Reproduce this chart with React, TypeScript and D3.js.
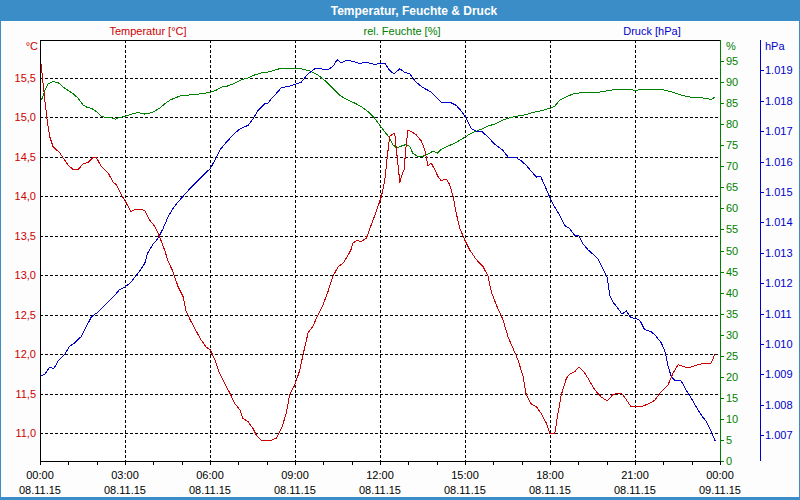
import React from "react";
import * as d3 from "d3";

// ---- data: [hour since 08.11.15 00:00, value] ----
const temperature: [number, number][] = [
  [0.05, 15.68], [0.07, 15.56], [0.17, 15.22], [0.25, 14.97], [0.34, 14.76], [0.46, 14.63], [0.58, 14.59],
  [0.7, 14.55], [0.81, 14.49], [0.99, 14.4], [1.16, 14.34], [1.34, 14.34], [1.52, 14.41], [1.69, 14.43],
  [1.87, 14.49], [1.99, 14.49], [2.16, 14.38], [2.4, 14.3], [2.58, 14.18], [2.69, 14.15], [2.87, 14.02],
  [3.01, 13.94], [3.2, 13.81], [3.34, 13.83], [3.52, 13.84], [3.7, 13.82], [3.87, 13.7], [4.05, 13.62],
  [4.22, 13.49], [4.4, 13.32], [4.52, 13.18], [4.69, 13.05], [4.87, 12.86], [5.05, 12.73], [5.16, 12.54],
  [5.34, 12.41], [5.52, 12.29], [5.69, 12.18], [5.87, 12.09], [6.01, 12.06], [6.17, 11.93], [6.34, 11.76],
  [6.52, 11.63], [6.7, 11.51], [6.87, 11.38], [7.05, 11.3], [7.16, 11.19], [7.34, 11.15], [7.52, 11.06],
  [7.63, 10.98], [7.81, 10.91], [8.16, 10.91], [8.34, 10.94], [8.52, 11.06], [8.69, 11.25], [8.81, 11.49],
  [8.99, 11.61], [9.17, 11.8], [9.28, 11.99], [9.46, 12.27], [9.64, 12.36], [9.81, 12.5], [9.99, 12.63],
  [10.16, 12.79], [10.34, 12.99], [10.52, 13.11], [10.69, 13.15], [10.85, 13.24], [10.97, 13.32],
  [11.05, 13.41], [11.16, 13.44], [11.34, 13.43], [11.52, 13.47], [11.69, 13.64], [11.87, 13.81],
  [12.05, 14.0], [12.17, 14.21], [12.26, 14.51], [12.34, 14.76], [12.42, 14.78], [12.52, 14.8],
  [12.58, 14.59], [12.64, 14.38], [12.7, 14.18], [12.75, 14.25], [12.85, 14.34], [12.93, 14.68],
  [12.99, 14.84], [13.1, 14.82], [13.28, 14.78], [13.46, 14.7], [13.58, 14.59], [13.69, 14.39],
  [13.81, 14.42], [13.93, 14.34], [14.05, 14.25], [14.16, 14.2], [14.34, 14.22], [14.46, 14.15],
  [14.58, 14.0], [14.69, 13.79], [14.81, 13.6], [14.99, 13.45], [15.17, 13.32], [15.4, 13.2],
  [15.64, 13.11], [15.81, 12.99], [15.93, 12.79], [16.1, 12.63], [16.34, 12.44], [16.52, 12.22],
  [16.69, 12.08], [16.87, 11.93], [17.05, 11.72], [17.16, 11.49], [17.34, 11.37], [17.52, 11.34],
  [17.69, 11.25], [17.87, 11.13], [17.99, 11.0], [18.17, 11.0], [18.28, 11.25], [18.4, 11.49],
  [18.58, 11.7], [18.7, 11.75], [18.87, 11.78], [19.02, 11.84], [19.2, 11.78], [19.37, 11.68],
  [19.58, 11.55], [19.81, 11.46], [20.02, 11.41], [20.22, 11.49], [20.4, 11.51], [20.54, 11.5],
  [20.69, 11.43], [20.85, 11.34], [21.05, 11.34], [21.22, 11.34], [21.46, 11.37], [21.7, 11.42],
  [21.93, 11.53], [22.16, 11.61], [22.34, 11.76], [22.52, 11.87], [22.75, 11.84], [22.99, 11.84],
  [23.22, 11.87], [23.46, 11.89], [23.69, 11.89], [23.83, 12.01],
];

const humidity: [number, number][] = [
  [0.05, 85.7], [0.17, 88.0], [0.28, 89.5], [0.46, 90.1], [0.64, 89.9], [0.81, 88.9], [0.99, 88.0],
  [1.16, 87.3], [1.34, 86.2], [1.52, 84.6], [1.69, 83.9], [1.81, 83.8], [1.99, 83.0], [2.16, 81.9],
  [2.34, 81.5], [2.52, 81.5], [2.66, 81.2], [2.81, 81.6], [3.01, 81.9], [3.22, 82.4], [3.46, 82.8],
  [3.7, 82.4], [3.87, 82.6], [4.05, 83.1], [4.22, 83.8], [4.4, 84.8], [4.58, 85.7], [4.75, 86.2],
  [4.99, 86.8], [5.22, 86.9], [5.46, 87.1], [5.69, 87.2], [6.01, 87.6], [6.22, 88.1], [6.4, 88.8],
  [6.64, 89.1], [6.87, 89.7], [7.1, 90.5], [7.34, 91.0], [7.58, 91.7], [7.81, 92.2], [8.16, 92.5],
  [8.22, 92.7], [8.46, 93.2], [8.75, 93.3], [9.05, 93.3], [9.34, 93.0], [9.58, 92.5], [9.81, 91.7],
  [10.1, 90.1], [10.34, 88.5], [10.58, 86.9], [10.81, 85.9], [11.11, 85.0], [11.34, 84.2], [11.58, 83.0],
  [11.81, 81.4], [11.99, 79.8], [12.17, 78.2], [12.34, 76.7], [12.46, 75.1], [12.58, 74.4], [12.75, 74.8],
  [12.93, 75.2], [13.05, 74.7], [13.16, 73.1], [13.34, 72.3], [13.52, 72.4], [13.69, 72.9], [13.87, 73.6],
  [14.02, 73.1], [14.16, 74.0], [14.4, 74.8], [14.64, 75.5], [14.87, 76.4], [15.11, 77.4], [15.34, 78.2],
  [15.58, 78.8], [15.81, 79.6], [16.05, 80.0], [16.16, 80.4], [16.34, 81.0], [16.58, 81.5], [16.81, 81.9],
  [17.11, 82.2], [17.34, 82.7], [17.69, 83.2], [18.01, 83.8], [18.17, 84.3], [18.34, 85.7], [18.58, 86.5],
  [18.81, 87.2], [19.1, 87.5], [19.58, 87.5], [19.81, 87.7], [20.16, 88.1], [20.4, 88.3], [20.99, 88.1],
  [21.93, 88.3], [22.28, 87.7], [22.63, 86.9], [22.99, 86.4], [23.46, 86.2], [23.69, 85.9], [23.81, 86.4],
];

const pressure: [number, number][] = [
  [0.02, 1008.94], [0.17, 1009.01], [0.34, 1009.23], [0.49, 1009.19], [0.64, 1009.44], [0.87, 1009.66],
  [1.05, 1009.93], [1.22, 1010.03], [1.46, 1010.25], [1.63, 1010.56], [1.81, 1010.89], [2.05, 1011.05],
  [2.22, 1011.22], [2.4, 1011.38], [2.64, 1011.6], [2.81, 1011.79], [3.01, 1011.88], [3.22, 1012.04],
  [3.4, 1012.26], [3.58, 1012.48], [3.7, 1012.66], [3.79, 1012.97], [3.99, 1013.28], [4.16, 1013.47],
  [4.34, 1013.79], [4.52, 1014.18], [4.69, 1014.45], [4.87, 1014.67], [5.11, 1014.92], [5.34, 1015.16],
  [5.58, 1015.38], [5.81, 1015.6], [6.01, 1015.77], [6.17, 1016.04], [6.34, 1016.37], [6.58, 1016.64],
  [6.75, 1016.81], [6.99, 1017.03], [7.16, 1017.12], [7.34, 1017.19], [7.52, 1017.41], [7.69, 1017.68],
  [7.93, 1017.9], [8.05, 1017.92], [8.16, 1018.07], [8.28, 1018.18], [8.52, 1018.43], [8.75, 1018.47],
  [9.01, 1018.54], [9.22, 1018.61], [9.46, 1018.89], [9.7, 1019.05], [9.93, 1019.05], [10.16, 1019.02],
  [10.34, 1019.13], [10.49, 1019.35], [10.63, 1019.24], [10.81, 1019.33], [11.05, 1019.3], [11.28, 1019.22],
  [11.46, 1019.27], [11.64, 1019.24], [11.81, 1019.2], [11.99, 1019.22], [12.17, 1019.24], [12.34, 1019.0],
  [12.49, 1018.89], [12.7, 1019.05], [12.87, 1018.94], [13.05, 1018.89], [13.22, 1018.67], [13.4, 1018.51],
  [13.58, 1018.4], [13.81, 1018.29], [13.99, 1018.12], [14.16, 1017.96], [14.46, 1017.96], [14.69, 1017.85],
  [14.87, 1017.66], [15.05, 1017.41], [15.22, 1017.08], [15.4, 1017.0], [15.58, 1017.0], [15.81, 1016.81],
  [16.05, 1016.57], [16.34, 1016.37], [16.52, 1016.15], [16.81, 1016.13], [16.99, 1016.02], [17.16, 1015.88],
  [17.34, 1015.68], [17.52, 1015.49], [17.67, 1015.51], [17.81, 1015.22], [17.99, 1014.83], [18.17, 1014.5],
  [18.34, 1014.23], [18.52, 1013.9], [18.7, 1013.79], [18.87, 1013.57], [19.02, 1013.55], [19.16, 1013.3],
  [19.34, 1013.1], [19.52, 1012.95], [19.69, 1012.81], [19.87, 1012.48], [20.02, 1012.2], [20.11, 1011.6],
  [20.22, 1011.38], [20.4, 1011.17], [20.54, 1010.98], [20.69, 1011.09], [20.85, 1010.87], [21.01, 1010.84],
  [21.17, 1010.78], [21.34, 1010.47], [21.58, 1010.4], [21.75, 1010.25], [21.93, 1010.03], [22.05, 1009.79],
  [22.16, 1009.3], [22.28, 1008.92], [22.4, 1008.81], [22.63, 1008.78], [22.81, 1008.48], [22.99, 1008.21],
  [23.16, 1007.93], [23.34, 1007.66], [23.52, 1007.44], [23.69, 1007.11], [23.83, 1006.81],
];

const tempTicks = [11.0, 11.5, 12.0, 12.5, 13.0, 13.5, 14.0, 14.5, 15.0, 15.5];
const humTicks = [0, 5, 10, 15, 20, 25, 30, 35, 40, 45, 50, 55, 60, 65, 70, 75, 80, 85, 90, 95];
const presTicks = [1007, 1008, 1009, 1010, 1011, 1012, 1013, 1014, 1015, 1016, 1017, 1018, 1019];
const hourMajor = [0, 3, 6, 9, 12, 15, 18, 21, 24];
const hourMinor = d3.range(0, 25, 1);

const title = "Temperatur, Feuchte & Druck";
const seriesLabels = ["Temperatur [°C]", "rel. Feuchte [%]", "Druck [hPa]"];

const RED = "#cc0000";
const GREEN = "#008000";
const BLUE = "#0000cc";
const FRAME = "#3b8dc7";
const FONT = "'Liberation Sans', Arial, sans-serif";

const de = d3.formatLocale({ decimal: ",", thousands: ".", grouping: [3], currency: ["", "€"] });
const fmtTemp = de.format(".1f");
const fmtPres = de.format(",d");
const start = new Date(2015, 10, 8, 0, 0);
const fmtTime = d3.timeFormat("%H:%M");
const fmtDate = d3.timeFormat("%d.%m.%y");

export default function App() {
  const L = 40, R = 720, T = 40, B = 461;
  const x = d3.scaleLinear().domain([0, 24]).range([L, R]);
  const yT = d3.scaleLinear().domain([10.65, 15.98]).range([B, T]);
  const yH = d3.scaleLinear().domain([0, 100]).range([B, T]);
  const yP = d3.scaleLinear().domain([1006.15, 1020.0]).range([B, T]);

  const lineT = d3.line<[number, number]>().x((d) => x(d[0])).y((d) => yT(d[1]));
  const lineH = d3.line<[number, number]>().x((d) => x(d[0])).y((d) => yH(d[1]));
  const lineP = d3.line<[number, number]>().x((d) => x(d[0])).y((d) => yP(d[1]));

  const PX = 760.5;

  return (
    <div style={{ position: "fixed", left: 0, top: 0 }}>
      <svg width={800} height={500} style={{ display: "block", fontFamily: FONT }}>
        <rect x={0} y={0} width={800} height={500} fill={FRAME} />
        <rect x={1} y={21} width={798} height={476} fill="#fdfdfd" />
        <text x={414} y={14.5} textAnchor="middle" fill="#fff" fontWeight="bold" fontSize={12}>
          {title}
        </text>

        {/* series headers */}
        <text x={148} y={35} textAnchor="middle" fill={RED} fontSize={11}>{seriesLabels[0]}</text>
        <text x={402} y={35} textAnchor="middle" fill={GREEN} fontSize={11}>{seriesLabels[1]}</text>
        <text x={652} y={35} textAnchor="middle" fill={BLUE} fontSize={11}>{seriesLabels[2]}</text>

        {/* plot background */}
        <rect x={L} y={T} width={R - L} height={B - T} fill="#fefffe" />

        {/* grid */}
        <g stroke="#000" strokeDasharray="3,2" strokeWidth={1} shapeRendering="crispEdges">
          {tempTicks.map((t) => (
            <line key={"gt" + t} x1={L} x2={R} y1={Math.round(yT(t)) + 0.5} y2={Math.round(yT(t)) + 0.5} />
          ))}
          {hourMajor.slice(1, -1).map((h) => (
            <line key={"gx" + h} x1={Math.round(x(h)) + 0.5} x2={Math.round(x(h)) + 0.5} y1={T} y2={B} />
          ))}
        </g>

        {/* series */}
        <g fill="none" strokeWidth={1} strokeLinejoin="round" shapeRendering="crispEdges">
          <path d={lineH(humidity) || ""} stroke={GREEN} />
          <path d={lineP(pressure) || ""} stroke={BLUE} />
          <path d={lineT(temperature) || ""} stroke={RED} />
        </g>

        {/* frame */}
        <g shapeRendering="crispEdges">
          <line x1={L} x2={R} y1={T + 0.5} y2={T + 0.5} stroke="#000" />
          <line x1={L + 0.5} x2={L + 0.5} y1={T} y2={B + 1} stroke="#000" />
          <line x1={L} x2={R + 1} y1={B + 0.5} y2={B + 0.5} stroke="#000" />
          <line x1={R + 0.5} x2={R + 0.5} y1={T} y2={B + 1} stroke={GREEN} />
          <line x1={PX} x2={PX} y1={T} y2={B} stroke={BLUE} />
        </g>

        {/* left axis labels */}
        <text x={38} y={50} textAnchor="end" fill={RED} fontSize={11}>°C</text>
        {tempTicks.map((t) => (
          <text key={"lt" + t} x={36} y={yT(t) + 4} textAnchor="end" fill={RED} fontSize={11}>
            {fmtTemp(t)}
          </text>
        ))}

        {/* humidity axis */}
        <text x={726} y={50} fill={GREEN} fontSize={11}>%</text>
        <g shapeRendering="crispEdges">
          {humTicks.map((h) => (
            <line key={"ht" + h} x1={R} x2={R + 4} y1={Math.round(yH(h)) + 0.5} y2={Math.round(yH(h)) + 0.5} stroke={GREEN} />
          ))}
        </g>
        {humTicks.map((h) => (
          <text key={"hl" + h} x={726} y={yH(h) + 4} fill={GREEN} fontSize={11}>
            {h}
          </text>
        ))}

        {/* pressure axis */}
        <text x={765} y={50} fill={BLUE} fontSize={11}>hPa</text>
        <g shapeRendering="crispEdges">
          {presTicks.map((p) => (
            <line key={"pt" + p} x1={PX} x2={PX + 3} y1={Math.round(yP(p)) + 0.5} y2={Math.round(yP(p)) + 0.5} stroke={BLUE} />
          ))}
        </g>
        {presTicks.map((p) => (
          <text key={"pl" + p} x={765} y={yP(p) + 4} fill={BLUE} fontSize={11}>
            {fmtPres(p)}
          </text>
        ))}

        {/* x axis */}
        <g shapeRendering="crispEdges" stroke="#000">
          {hourMinor.map((h) => (
            <line key={"xt" + h} x1={Math.round(x(h)) + 0.5} x2={Math.round(x(h)) + 0.5} y1={B} y2={B + 4} />
          ))}
        </g>
        {hourMajor.map((h) => {
          const dt = new Date(start.getTime() + h * 3600 * 1000);
          return (
            <g key={"xl" + h}>
              <text x={x(h)} y={479} textAnchor="middle" fill="#000" fontSize={11}>{fmtTime(dt)}</text>
              <text x={x(h)} y={494} textAnchor="middle" fill="#000" fontSize={11}>{fmtDate(dt)}</text>
            </g>
          );
        })}
      </svg>
    </div>
  );
}
